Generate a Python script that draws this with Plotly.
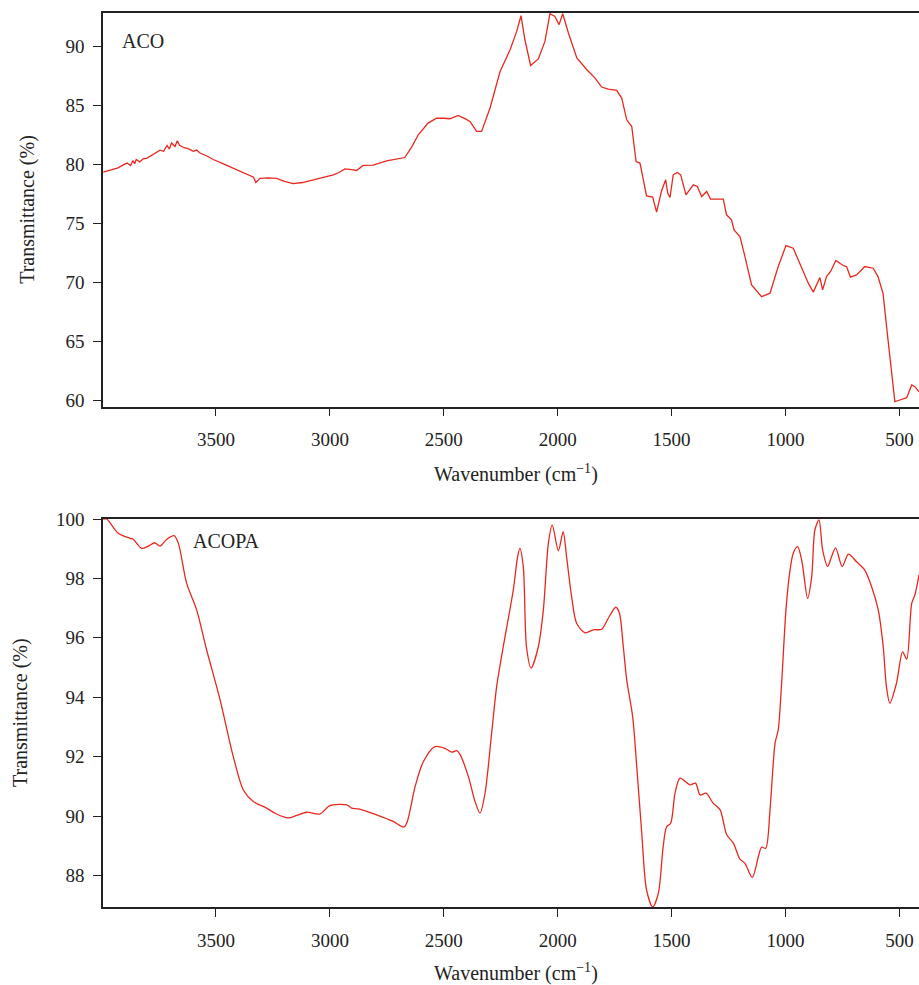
import plotly.graph_objects as go
from plotly.subplots import make_subplots

# ACO spectrum (wavenumber cm-1, transmittance %)
aco_wn = [3995, 3960, 3930, 3907, 3890, 3875, 3865, 3857, 3850, 3835, 3820, 3804, 3780, 3760, 3746, 3730,
          3715, 3705, 3695, 3680, 3670, 3660, 3651, 3640, 3620, 3600, 3585, 3570, 3540, 3512, 3470, 3424,
          3390, 3351, 3335, 3325, 3307, 3270, 3234, 3200, 3161, 3120, 3074, 3030, 2985, 2960, 2934, 2905,
          2883, 2854, 2810, 2751, 2700, 2671, 2640, 2612, 2569, 2532, 2500, 2473, 2437, 2429, 2405, 2385,
          2356, 2334, 2297, 2253, 2209, 2180, 2161, 2144, 2119, 2085, 2056, 2034, 2012, 1994, 1978, 1953,
          1916, 1872, 1836, 1807, 1778, 1741, 1719, 1697, 1675, 1656, 1639, 1624, 1610, 1583, 1566, 1544,
          1526, 1517, 1507, 1493, 1475, 1460, 1437, 1405, 1387, 1368, 1346, 1329, 1273, 1259, 1237, 1226,
          1200, 1178, 1149, 1105, 1068, 1032, 998, 966, 937, 900, 878, 849, 837, 820, 802, 779,
          747, 732, 715, 688, 652, 615, 594, 572, 550, 520, 498, 468, 446, 432, 414]
aco_t = [79.33, 79.5, 79.7, 79.95, 80.1, 79.9, 80.3, 80.05, 80.4, 80.2, 80.45, 80.5, 80.8, 81.0, 81.2, 81.1,
         81.6, 81.3, 81.8, 81.5, 82.0, 81.6, 81.5, 81.4, 81.3, 81.1, 81.2, 80.95, 80.7, 80.4, 80.05, 79.67,
         79.4, 79.1, 78.9, 78.45, 78.8, 78.85, 78.8, 78.55, 78.36, 78.45, 78.68, 78.85, 79.1, 79.3, 79.6, 79.55,
         79.47, 79.9, 79.93, 80.29, 80.45, 80.57, 81.5, 82.5, 83.49, 83.9, 83.9, 83.86, 84.14, 84.05, 83.85, 83.63,
         82.78, 82.78, 84.77, 87.87, 89.71, 91.27, 92.6, 90.56, 88.38, 88.93, 90.42, 92.77, 92.54, 91.84, 92.77, 91.13,
         89.01, 88.02, 87.31, 86.55, 86.38, 86.26, 85.61, 83.77, 83.2, 80.23, 80.1, 78.68, 77.32, 77.21, 75.94, 77.75,
         78.68, 77.55, 77.18, 79.1, 79.3, 79.1, 77.4, 78.25, 78.11, 77.26, 77.69, 77.04, 77.04, 75.71, 75.28, 74.43,
         73.87, 72.17, 69.76, 68.77, 69.06, 71.32, 73.1, 72.88, 71.61, 69.91, 69.15, 70.39, 69.34, 70.47, 70.9, 71.83,
         71.41, 71.32, 70.42, 70.61, 71.32, 71.18, 70.47, 69.06, 65.1, 59.86, 60.0, 60.2, 61.27, 61.13, 60.7]

# ACOPA spectrum
acopa_wn = [3995, 3980, 3929, 3877, 3863, 3826, 3797, 3768, 3746, 3716, 3684, 3665, 3629, 3585, 3541, 3482,
            3424, 3380, 3336, 3278, 3234, 3183, 3146, 3102, 3044, 3000, 2926, 2905, 2875, 2795, 2722, 2675,
            2660, 2626, 2590, 2539, 2495, 2465, 2443, 2429, 2392, 2363, 2341, 2319, 2290, 2268, 2239, 2195,
            2176, 2166, 2151, 2137, 2117, 2085, 2063, 2041, 2024, 1997, 1976, 1961, 1939, 1917, 1880, 1844,
            1807, 1778, 1745, 1729, 1712, 1697, 1671, 1653, 1631, 1610, 1583, 1558, 1537, 1522, 1504, 1485,
            1463, 1419, 1395, 1375, 1349, 1317, 1287, 1258, 1229, 1200, 1178, 1146, 1119, 1105, 1087, 1068,
            1046, 1032, 1017, 998, 981, 966, 947, 929, 903, 885, 871, 853, 837, 815, 798, 780,
            751, 724, 688, 652, 622, 593, 571, 557, 542, 513, 486, 468, 446, 432, 414]
acopa_t = [100.0, 100.0, 99.52, 99.35, 99.32, 99.01, 99.09, 99.2, 99.09, 99.32, 99.44, 99.18, 97.84, 96.94, 95.59, 93.91,
           92.0, 90.88, 90.49, 90.27, 90.07, 89.94, 90.02, 90.13, 90.07, 90.35, 90.38, 90.27, 90.24, 90.04, 89.82, 89.63,
           89.82, 90.99, 91.83, 92.34, 92.28, 92.15, 92.2, 92.08, 91.33, 90.49, 90.1, 90.77, 92.79, 94.36, 95.7, 97.61,
           98.73, 99.01, 98.39, 95.7, 94.98, 95.7, 96.94, 99.18, 99.8, 98.93, 99.57, 98.73, 97.39, 96.49, 96.17, 96.27,
           96.29, 96.66, 97.03, 96.83, 95.7, 94.58, 93.35, 91.67, 89.42, 87.52, 86.94, 87.41, 88.97, 89.64, 89.76, 90.77,
           91.28, 91.05, 91.11, 90.71, 90.77, 90.43, 90.21, 89.37, 89.09, 88.55, 88.41, 87.93, 88.64, 88.95, 88.92, 90.21,
           92.45, 92.9, 94.47, 96.94, 98.23, 98.85, 99.07, 98.62, 97.33, 98.06, 99.63, 99.97, 98.96, 98.4, 98.73, 99.03,
           98.4, 98.82, 98.56, 98.28, 97.72, 96.94, 95.7, 94.36, 93.8, 94.47, 95.53, 95.28, 97.16, 97.44, 98.12]

x_ticks = [3500, 3000, 2500, 2000, 1500, 1000, 500]
aco_yticks = [60, 65, 70, 75, 80, 85, 90]
acopa_yticks = [88, 90, 92, 94, 96, 98, 100]

RED = "#e8281e"
FONT = "Liberation Serif"

fig = make_subplots(rows=2, cols=1, vertical_spacing=0.0)
fig.add_trace(go.Scatter(x=aco_wn, y=aco_t, mode="lines", line=dict(color=RED, width=1.3),
                         showlegend=False), row=1, col=1)
fig.add_trace(go.Scatter(x=acopa_wn, y=acopa_t, mode="lines", line=dict(color=RED, width=1.3, shape="spline", smoothing=0.8),
                         showlegend=False), row=2, col=1)

axis_common = dict(showline=True, linecolor="#222", linewidth=1.5, ticks="outside", ticklen=8,
                   tickwidth=1.2, tickcolor="#222", showgrid=False, zeroline=False,
                   tickfont=dict(family=FONT, size=19, color="#222"))

fig.update_xaxes(range=[3996, 414], tickvals=x_ticks, mirror=True, ticklabelstandoff=7, **axis_common)
fig.update_yaxes(ticklabelstandoff=5, **axis_common)
fig.update_yaxes(range=[59.43, 92.83], tickvals=aco_yticks, row=1, col=1)
fig.update_yaxes(range=[86.94, 100], tickvals=acopa_yticks, row=2, col=1)

fig.update_layout(
    width=919, height=985,
    margin=dict(l=103, r=0, t=13, b=78),
    plot_bgcolor="white", paper_bgcolor="white",
    xaxis=dict(domain=[0, 1]), yaxis=dict(domain=[0.5596, 1.0]),
    xaxis2=dict(domain=[0, 1]), yaxis2=dict(domain=[0.0, 0.434]),
)

ann_font = dict(family=FONT, size=20, color="#222")
fig.add_annotation(text="ACO", xref="paper", yref="paper", x=0, y=1, xanchor="left", yanchor="middle",
                   xshift=17, yshift=-28, showarrow=False, font=ann_font)
fig.add_annotation(text="ACOPA", xref="paper", yref="paper", x=0, y=0.434, xanchor="left", yanchor="middle",
                   xshift=88, yshift=-22, showarrow=False, font=ann_font)
fig.add_annotation(text="Transmittance (%)", xref="paper", yref="paper", x=0, y=(0.5596 + 1) / 2,
                   xanchor="center", yanchor="middle", xshift=-75, textangle=-90, showarrow=False, font=ann_font)
fig.add_annotation(text="Transmittance (%)", xref="paper", yref="paper", x=0, y=0.434 / 2,
                   xanchor="center", yanchor="middle", xshift=-83, textangle=-90, showarrow=False, font=ann_font)
fig.add_annotation(text="Wavenumber (cm<sup>−1</sup>)", xref="paper", yref="paper", x=(516 - 103) / 816, y=0.5596,
                   xanchor="center", yanchor="middle", yshift=-67, showarrow=False, font=ann_font)
fig.add_annotation(text="Wavenumber (cm<sup>−1</sup>)", xref="paper", yref="paper", x=(516 - 103) / 816, y=0,
                   xanchor="center", yanchor="middle", yshift=-65, showarrow=False, font=ann_font)

fig.write_html("out.html")
